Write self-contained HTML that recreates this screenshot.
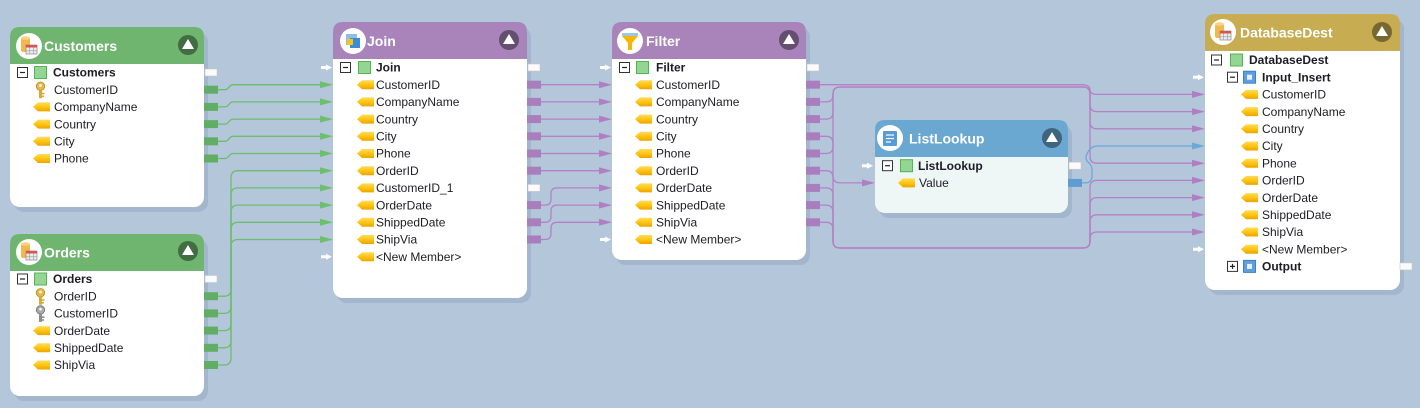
<!DOCTYPE html>
<html><head><meta charset="utf-8"><style>
html,body{margin:0;padding:0;background:#b4c6da;}
svg{display:block;}
</style></head><body>
<svg width="1420" height="408" viewBox="0 0 1420 408" xmlns="http://www.w3.org/2000/svg" font-family="'Liberation Sans', Arial, sans-serif">
<defs>
<linearGradient id="yg" x1="0" y1="0" x2="0" y2="1"><stop offset="0" stop-color="#ffdc5a"/><stop offset="0.55" stop-color="#ffc20e"/><stop offset="1" stop-color="#eaa300"/></linearGradient>
<g id="tag"><polygon points="0,4.5 5,0 17,0 17,9 5,9" fill="url(#yg)"/></g>
<g id="minus"><rect x="0.5" y="0.5" width="10" height="10" fill="#fff" stroke="#333" stroke-width="1"/><line x1="3" y1="5.5" x2="8" y2="5.5" stroke="#222" stroke-width="1.2"/></g>
<g id="plus"><rect x="0.5" y="0.5" width="10" height="10" fill="#fff" stroke="#333" stroke-width="1"/><line x1="3" y1="5.5" x2="8" y2="5.5" stroke="#222" stroke-width="1.2"/><line x1="5.5" y1="3" x2="5.5" y2="8" stroke="#222" stroke-width="1.2"/></g>
<g id="gsq"><rect x="0.5" y="0.5" width="12" height="12" fill="#94d594" stroke="#52b452" stroke-width="1"/></g>
<g id="bsq"><rect x="0.5" y="0.5" width="12" height="12" fill="#5d9de0" stroke="#3f7fc4"/><rect x="4" y="4" width="5" height="5" fill="#fff" opacity="0.85"/></g>
<g id="hbtn"><circle r="10" fill="#000" fill-opacity="0.4"/><polygon points="-6,4 6,4 0,-6" fill="#fff"/></g>
<g id="wa"><polygon points="0,-1.5 5,-1.5 5,-3 11,0 5,3 5,1.5 0,1.5" fill="#fff"/></g>
<g id="wp"><rect x="0" y="-3.5" width="12" height="7" fill="#fbfbfb" stroke="#c8c8c8" stroke-width="0.6"/></g>
<g id="ga"><polygon points="0,-3.5 13,0 0,3.5" fill="#6cbf6c"/></g>
<g id="pa"><polygon points="0,-3.5 13,0 0,3.5" fill="#b07fc3"/></g>
<g id="ba"><polygon points="0,-3.5 13,0 0,3.5" fill="#6aa9d8"/></g>
<g id="gp"><rect x="0" y="-4" width="14" height="8" fill="#62ad66"/></g>
<g id="pp"><rect x="0" y="-4" width="14" height="8" fill="#a87fbc"/></g>
<g id="key"><circle cx="5.5" cy="4.5" r="4.2" fill="#e6b84a" stroke="#b38a22" stroke-width="0.8"/><circle cx="5.5" cy="3.8" r="1.3" fill="#fff"/><rect x="4" y="8.5" width="3" height="8" fill="#d9a836"/><rect x="7" y="11" width="2.5" height="1.6" fill="#d9a836"/><rect x="7" y="13.8" width="2" height="1.6" fill="#d9a836"/></g>
<g id="gkey"><circle cx="5.5" cy="4.5" r="4.2" fill="#a9a9a9" stroke="#6f6f6f" stroke-width="0.8"/><circle cx="5.5" cy="3.8" r="1.3" fill="#fff"/><rect x="4" y="8.5" width="3" height="8" fill="#8c8c8c"/><rect x="7" y="11" width="2.5" height="1.6" fill="#8c8c8c"/><rect x="7" y="13.8" width="2" height="1.6" fill="#8c8c8c"/></g>
<g id="dbi"><circle r="13" fill="#fff"/><rect x="-8" y="-8" width="9" height="14" rx="2" fill="#f2b84b"/><ellipse cx="-3.5" cy="-8" rx="4.5" ry="1.8" fill="#f8d384"/><rect x="-3" y="-1" width="11" height="9" fill="#ececec" stroke="#888" stroke-width="0.7"/><rect x="-3" y="-1" width="11" height="2.5" fill="#d9534f"/><line x1="0.7" y1="1.5" x2="0.7" y2="8" stroke="#999" stroke-width="0.6"/><line x1="4.3" y1="1.5" x2="4.3" y2="8" stroke="#999" stroke-width="0.6"/><line x1="-3" y1="4.8" x2="8" y2="4.8" stroke="#999" stroke-width="0.6"/></g>
</defs>

<!-- ========== NODES ========== -->
<!-- Customers -->
<rect x="14" y="32" width="194" height="180" rx="10" fill="#3c5a80" fill-opacity="0.14"/>
<rect x="10" y="27" width="194" height="180" rx="10" fill="#fff"/>
<path d="M10,64 V37 Q10,27 20,27 H194 Q204,27 204,37 V64 Z" fill="#6fb46f"/>
<use href="#dbi" transform="translate(29,46)"/>
<text x="44" y="51" fill="#fff" font-size="14" font-weight="bold">Customers</text>
<use href="#hbtn" transform="translate(188,45)"/>
<use href="#minus" x="17" y="67"/><use href="#gsq" x="34" y="66"/>
<g font-size="12" fill="#1c1c24">
<text x="53" y="76.7" font-weight="bold">Customers</text>
<use href="#key" transform="translate(35,81.7)"/><text x="54" y="93.9">CustomerID</text>
<use href="#tag" x="33" y="102.4"/><text x="54" y="111.1">CompanyName</text>
<use href="#tag" x="33" y="119.6"/><text x="54" y="128.3">Country</text>
<use href="#tag" x="33" y="136.8"/><text x="54" y="145.5">City</text>
<use href="#tag" x="33" y="154"/><text x="54" y="162.7">Phone</text>
</g>

<!-- Orders -->
<rect x="14" y="239" width="194" height="162" rx="10" fill="#3c5a80" fill-opacity="0.14"/>
<rect x="10" y="234" width="194" height="162" rx="10" fill="#fff"/>
<path d="M10,271 V244 Q10,234 20,234 H194 Q204,234 204,244 V271 Z" fill="#6fb46f"/>
<use href="#dbi" transform="translate(29,252)"/>
<text x="44" y="257.5" fill="#fff" font-size="14" font-weight="bold">Orders</text>
<use href="#hbtn" transform="translate(188,251)"/>
<use href="#minus" x="17" y="273.5"/><use href="#gsq" x="34" y="272.5"/>
<g font-size="12" fill="#1c1c24">
<text x="53" y="283.2" font-weight="bold">Orders</text>
<use href="#key" transform="translate(35,288.2)"/><text x="54" y="300.4">OrderID</text>
<use href="#gkey" transform="translate(35,305.4)"/><text x="54" y="317.6">CustomerID</text>
<use href="#tag" x="33" y="326.1"/><text x="54" y="334.8">OrderDate</text>
<use href="#tag" x="33" y="343.3"/><text x="54" y="352">ShippedDate</text>
<use href="#tag" x="33" y="360.5"/><text x="54" y="369.2">ShipVia</text>
</g>

<!-- Join -->
<rect x="337" y="27" width="194" height="276" rx="10" fill="#3c5a80" fill-opacity="0.14"/>
<rect x="333" y="22" width="194" height="276" rx="10" fill="#fff"/>
<path d="M333,59 V32 Q333,22 343,22 H517 Q527,22 527,32 V59 Z" fill="#a884bb"/>
<circle cx="353" cy="41" r="13" fill="#fff"/>
<rect x="346" y="34" width="11" height="11" fill="#8fbde8"/><rect x="350" y="38" width="10" height="10" fill="#3d8ad6"/><rect x="347" y="39" width="6" height="6" fill="#f5c518"/>
<text x="367" y="46" fill="#fff" font-size="14" font-weight="bold">Join</text>
<use href="#hbtn" transform="translate(509,40)"/>
<use href="#minus" x="340" y="62"/><use href="#gsq" x="358" y="61"/>
<g font-size="12" fill="#1c1c24">
<text x="376" y="71.7" font-weight="bold">Join</text>
<use href="#tag" x="357" y="80.2"/><text x="376" y="88.9">CustomerID</text>
<use href="#tag" x="357" y="97.4"/><text x="376" y="106.1">CompanyName</text>
<use href="#tag" x="357" y="114.6"/><text x="376" y="123.3">Country</text>
<use href="#tag" x="357" y="131.8"/><text x="376" y="140.5">City</text>
<use href="#tag" x="357" y="149"/><text x="376" y="157.7">Phone</text>
<use href="#tag" x="357" y="166.2"/><text x="376" y="174.9">OrderID</text>
<use href="#tag" x="357" y="183.4"/><text x="376" y="192.1">CustomerID_1</text>
<use href="#tag" x="357" y="200.6"/><text x="376" y="209.3">OrderDate</text>
<use href="#tag" x="357" y="217.8"/><text x="376" y="226.5">ShippedDate</text>
<use href="#tag" x="357" y="235"/><text x="376" y="243.7">ShipVia</text>
<use href="#tag" x="357" y="252.2"/><text x="376" y="260.9">&lt;New Member&gt;</text>
</g>

<!-- Filter -->
<rect x="616" y="27" width="194" height="238" rx="10" fill="#3c5a80" fill-opacity="0.14"/>
<rect x="612" y="22" width="194" height="238" rx="10" fill="#fff"/>
<path d="M612,59 V32 Q612,22 622,22 H796 Q806,22 806,32 V59 Z" fill="#a884bb"/>
<circle cx="630" cy="41" r="13" fill="#fff"/>
<rect x="622" y="33" width="16" height="3" fill="#9cc7ec"/>
<polygon points="622,36 638,36 632,43 632,50 628,50 628,43" fill="#f5b800"/>
<text x="646" y="46" fill="#fff" font-size="14" font-weight="bold">Filter</text>
<use href="#hbtn" transform="translate(789,40)"/>
<use href="#minus" x="619" y="62"/><use href="#gsq" x="636" y="61"/>
<g font-size="12" fill="#1c1c24">
<text x="656" y="71.7" font-weight="bold">Filter</text>
<use href="#tag" x="635" y="80.2"/><text x="656" y="88.9">CustomerID</text>
<use href="#tag" x="635" y="97.4"/><text x="656" y="106.1">CompanyName</text>
<use href="#tag" x="635" y="114.6"/><text x="656" y="123.3">Country</text>
<use href="#tag" x="635" y="131.8"/><text x="656" y="140.5">City</text>
<use href="#tag" x="635" y="149"/><text x="656" y="157.7">Phone</text>
<use href="#tag" x="635" y="166.2"/><text x="656" y="174.9">OrderID</text>
<use href="#tag" x="635" y="183.4"/><text x="656" y="192.1">OrderDate</text>
<use href="#tag" x="635" y="200.6"/><text x="656" y="209.3">ShippedDate</text>
<use href="#tag" x="635" y="217.8"/><text x="656" y="226.5">ShipVia</text>
<use href="#tag" x="635" y="235"/><text x="656" y="243.7">&lt;New Member&gt;</text>
</g>

<!-- ListLookup -->
<rect x="879" y="125" width="193" height="93" rx="10" fill="#3c5a80" fill-opacity="0.14"/>
<rect x="875" y="120" width="193" height="93" rx="10" fill="#eef6f6"/>
<path d="M875,157 V130 Q875,120 885,120 H1058 Q1068,120 1068,130 V157 Z" fill="#6aa7d1"/>
<circle cx="890" cy="138" r="13" fill="#fff"/>
<rect x="883" y="131" width="14" height="15" rx="1" fill="#5b9bd5"/>
<line x1="886" y1="135" x2="894" y2="135" stroke="#fff" stroke-width="1.2"/><line x1="886" y1="138.5" x2="894" y2="138.5" stroke="#fff" stroke-width="1.2"/><line x1="886" y1="142" x2="891" y2="142" stroke="#fff" stroke-width="1.2"/>
<text x="909" y="143.5" fill="#fff" font-size="14" font-weight="bold">ListLookup</text>
<use href="#hbtn" transform="translate(1052,138)"/>
<use href="#minus" x="882" y="160.2"/><use href="#gsq" x="900" y="159.2"/>
<g font-size="12" fill="#1c1c24">
<text x="918" y="169.9" font-weight="bold">ListLookup</text>
<use href="#tag" x="898" y="178.4"/><text x="919" y="187.1">Value</text>
</g>

<!-- DatabaseDest -->
<rect x="1209" y="19" width="195" height="276" rx="10" fill="#3c5a80" fill-opacity="0.14"/>
<rect x="1205" y="14" width="195" height="276" rx="10" fill="#fff"/>
<path d="M1205,51 V24 Q1205,14 1215,14 H1390 Q1400,14 1400,24 V51 Z" fill="#c8ac52"/>
<use href="#dbi" transform="translate(1223,32)"/>
<text x="1240" y="37.5" fill="#fff" font-size="14" font-weight="bold">DatabaseDest</text>
<use href="#hbtn" transform="translate(1382,32)"/>
<use href="#minus" x="1211" y="54.5"/><use href="#gsq" x="1230" y="53.5"/>
<use href="#minus" x="1227" y="71.7"/><use href="#bsq" x="1243" y="70.7"/>
<use href="#plus" x="1227" y="260.9"/><use href="#bsq" x="1243" y="259.9"/>
<g font-size="12" fill="#1c1c24">
<text x="1249" y="64.2" font-weight="bold">DatabaseDest</text>
<text x="1262" y="81.4" font-weight="bold">Input_Insert</text>
<use href="#tag" x="1241" y="89.9"/><text x="1262" y="98.6">CustomerID</text>
<use href="#tag" x="1241" y="107.1"/><text x="1262" y="115.8">CompanyName</text>
<use href="#tag" x="1241" y="124.3"/><text x="1262" y="133">Country</text>
<use href="#tag" x="1241" y="141.5"/><text x="1262" y="150.2">City</text>
<use href="#tag" x="1241" y="158.7"/><text x="1262" y="167.4">Phone</text>
<use href="#tag" x="1241" y="175.9"/><text x="1262" y="184.6">OrderID</text>
<use href="#tag" x="1241" y="193.1"/><text x="1262" y="201.8">OrderDate</text>
<use href="#tag" x="1241" y="210.3"/><text x="1262" y="219">ShippedDate</text>
<use href="#tag" x="1241" y="227.5"/><text x="1262" y="236.2">ShipVia</text>
<use href="#tag" x="1241" y="244.7"/><text x="1262" y="253.4">&lt;New Member&gt;</text>
<text x="1262" y="270.6" font-weight="bold">Output</text>
</g>

<!-- ========== CONNECTORS ========== -->
<g fill="none" stroke="#6dbd6d" stroke-width="1.3">
<path d="M218,89.7 H225 C229,89.7 229,84.7 233,84.7 H321"/>
<path d="M218,106.9 H225 C229,106.9 229,101.9 233,101.9 H321"/>
<path d="M218,124.1 H225 C229,124.1 229,119.1 233,119.1 H321"/>
<path d="M218,141.3 H225 C229,141.3 229,136.3 233,136.3 H321"/>
<path d="M218,158.5 H225 C229,158.5 229,153.5 233,153.5 H321"/>
<path d="M218,296.2 H224 Q231,296.2 231,289.2 V177.7 Q231,170.7 238,170.7 H321"/>
<path d="M218,313.4 H224 Q231,313.4 231,306.4 V194.9 Q231,187.9 238,187.9 H321"/>
<path d="M218,330.6 H224 Q231,330.6 231,323.6 V212.1 Q231,205.1 238,205.1 H321"/>
<path d="M218,347.8 H224 Q231,347.8 231,340.8 V229.3 Q231,222.3 238,222.3 H321"/>
<path d="M218,365 H224 Q231,365 231,358 V246.5 Q231,239.5 238,239.5 H321"/>
</g>
<g fill="none" stroke="#b381c4" stroke-width="1.3">
<path d="M541,84.7 H600"/>
<path d="M541,101.9 H600"/>
<path d="M541,119.1 H600"/>
<path d="M541,136.3 H600"/>
<path d="M541,153.5 H600"/>
<path d="M541,170.7 H600"/>
<path d="M541,205.1 H545 Q551,205.1 551,199.1 V193.9 Q551,187.9 557,187.9 H600"/>
<path d="M541,222.3 H545 Q551,222.3 551,216.3 V211.1 Q551,205.1 557,205.1 H600"/>
<path d="M541,239.5 H545 Q551,239.5 551,233.5 V228.3 Q551,222.3 557,222.3 H600"/>
<!-- Filter -> DB top bus -->
<path d="M820,84.7 H1081 Q1090,84.7 1090,90 Q1090,94.4 1098,94.4 H1193"/>
<path d="M820,101.9 H826 Q833,101.9 833,95 V94 Q833,87 840,87 H1083 Q1090,87 1090,94 V104.6 Q1090,111.6 1097,111.6 H1193"/>
<path d="M820,119.1 H826 Q833,119.1 833,112.1 V94 Q833,87 840,87 H1083 Q1090,87 1090,94 V121.8 Q1090,128.8 1097,128.8 H1193"/>
<path d="M820,153.5 H826 Q833,153.5 833,146.5 V94 Q833,87 840,87 H1083 Q1090,87 1090,94 V156.2 Q1090,163.2 1097,163.2 H1193"/>
<!-- bottom bus -->
<path d="M820,170.7 H826 Q833,170.7 833,177.7 V241 Q833,248 840,248 H1083 Q1090,248 1090,241 V187.4 Q1090,180.4 1097,180.4 H1193"/>
<path d="M820,187.9 H826 Q833,187.9 833,194.9 V241 Q833,248 840,248 H1083 Q1090,248 1090,241 V204.6 Q1090,197.6 1097,197.6 H1193"/>
<path d="M820,205.1 H826 Q833,205.1 833,212.1 V241 Q833,248 840,248 H1083 Q1090,248 1090,241 V221.8 Q1090,214.8 1097,214.8 H1193"/>
<path d="M820,222.3 H826 Q833,222.3 833,229.3 V241 Q833,248 840,248 H1083 Q1090,248 1090,241 V239 Q1090,232 1097,232 H1193"/>
<!-- City -> ListLookup -->
<path d="M820,136.3 H826 Q833,136.3 833,143.3 V175.9 Q833,182.9 840,182.9 H863"/>
</g>
<path d="M1082,182.9 H1085 Q1092,182.9 1092,176 V170 Q1092,165 1088,162 Q1084,158 1088,152 Q1091,146 1098,146 H1193" fill="none" stroke="#6aa9d8" stroke-width="1.3"/>

<!-- ========== PORTS / ARROWS ========== -->
<use href="#wp" x="205" y="72.5"/>
<use href="#gp" x="204" y="89.7"/><use href="#gp" x="204" y="106.9"/><use href="#gp" x="204" y="124.1"/><use href="#gp" x="204" y="141.3"/><use href="#gp" x="204" y="158.5"/>
<use href="#wp" x="205" y="279"/>
<use href="#gp" x="204" y="296.2"/><use href="#gp" x="204" y="313.4"/><use href="#gp" x="204" y="330.6"/><use href="#gp" x="204" y="347.8"/><use href="#gp" x="204" y="365"/>

<use href="#wa" x="321" y="67.5"/><use href="#wa" x="321" y="256.7"/>
<use href="#ga" x="320" y="84.7"/><use href="#ga" x="320" y="101.9"/><use href="#ga" x="320" y="119.1"/><use href="#ga" x="320" y="136.3"/><use href="#ga" x="320" y="153.5"/>
<use href="#ga" x="320" y="170.7"/><use href="#ga" x="320" y="187.9"/><use href="#ga" x="320" y="205.1"/><use href="#ga" x="320" y="222.3"/><use href="#ga" x="320" y="239.5"/>

<use href="#wp" x="528" y="67.5"/><use href="#wp" x="528" y="187.9"/>
<use href="#pp" x="527" y="84.7"/><use href="#pp" x="527" y="101.9"/><use href="#pp" x="527" y="119.1"/><use href="#pp" x="527" y="136.3"/><use href="#pp" x="527" y="153.5"/><use href="#pp" x="527" y="170.7"/>
<use href="#pp" x="527" y="205.1"/><use href="#pp" x="527" y="222.3"/><use href="#pp" x="527" y="239.5"/>

<use href="#wa" x="600" y="67.5"/><use href="#wa" x="600" y="239.5"/>
<use href="#pa" x="599" y="84.7"/><use href="#pa" x="599" y="101.9"/><use href="#pa" x="599" y="119.1"/><use href="#pa" x="599" y="136.3"/><use href="#pa" x="599" y="153.5"/>
<use href="#pa" x="599" y="170.7"/><use href="#pa" x="599" y="187.9"/><use href="#pa" x="599" y="205.1"/><use href="#pa" x="599" y="222.3"/>

<use href="#wp" x="807" y="67.5"/>
<use href="#pp" x="806" y="84.7"/><use href="#pp" x="806" y="101.9"/><use href="#pp" x="806" y="119.1"/><use href="#pp" x="806" y="136.3"/><use href="#pp" x="806" y="153.5"/>
<use href="#pp" x="806" y="170.7"/><use href="#pp" x="806" y="187.9"/><use href="#pp" x="806" y="205.1"/><use href="#pp" x="806" y="222.3"/>

<use href="#wa" x="862" y="165.7"/>
<use href="#pa" x="862" y="182.9"/>
<use href="#wp" x="1069" y="165.7"/>
<rect x="1068" y="178.9" width="14" height="8" fill="#5d9dd1"/>

<use href="#wa" x="1193" y="77.2"/><use href="#wa" x="1193" y="249.2"/>
<use href="#pa" x="1192" y="94.4"/><use href="#pa" x="1192" y="111.6"/><use href="#pa" x="1192" y="128.8"/>
<use href="#ba" x="1192" y="146"/>
<use href="#pa" x="1192" y="163.2"/><use href="#pa" x="1192" y="180.4"/><use href="#pa" x="1192" y="197.6"/><use href="#pa" x="1192" y="214.8"/><use href="#pa" x="1192" y="232"/>
<use href="#wp" x="1400" y="266.4"/>
</svg>
</body></html>
